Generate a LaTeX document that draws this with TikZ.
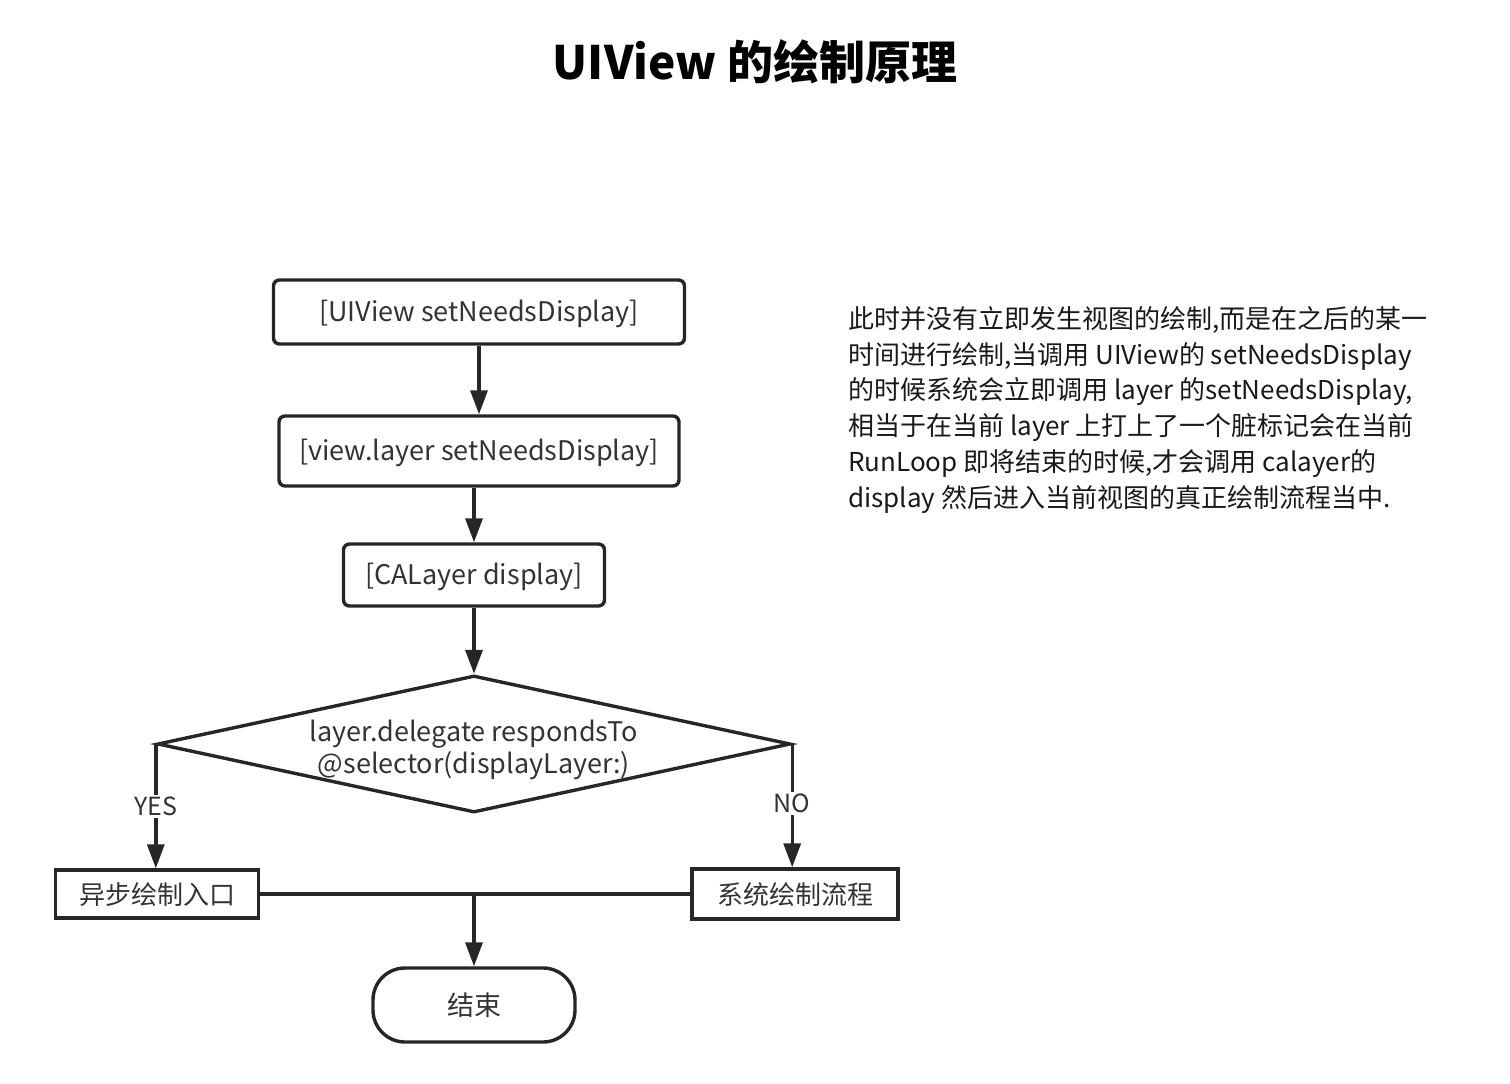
\documentclass[tikz,border=0pt]{standalone}
\usepackage{fontspec}
\setmainfont{Noto Sans CJK SC}
\usetikzlibrary{arrows.meta,shapes.geometric}
\begin{document}
\begin{tikzpicture}[x=1pt,y=-1pt,
  line/.style={draw=black!85,line width=3.4pt},
  arr/.style={line,-{Triangle[length=24pt,width=17pt]}},
  proc/.style={line,rounded corners=6pt,inner sep=0pt,text=black!80,text height=20pt,text depth=1pt,font=\fontsize{27}{32}\selectfont},
  plain/.style={line,inner sep=0pt,text=black!80,text height=21pt,text depth=1pt,font=\fontsize{26}{30}\selectfont},
  lbl/.style={fill=white,inner sep=2pt,text=black!80,font=\fontsize{25}{28}\selectfont}]
\useasboundingbox (0,0) rectangle (1510,1084);
\node[font=\bfseries\fontsize{46}{52}\selectfont] (title) at (755,62) {UIView 的绘制原理};
\node[proc,minimum width=411pt,minimum height=64pt] (b1) at (479,312) {[UIView setNeedsDisplay]};
\node[proc,minimum width=400pt,minimum height=70pt] (b2) at (479,451) {[view.layer setNeedsDisplay]};
\node[proc,minimum width=261pt,minimum height=62pt] (b3) at (474,575) {[CALayer display]};
\node[line,diamond,aspect=4.62,inner sep=0pt,minimum width=633pt,minimum height=137pt,text=black!80,font=\fontsize{27}{32}\selectfont] (d) at (474,744) {\raisebox{-13pt}[0pt][0pt]{\begin{tabular}{@{}c@{}}layer.delegate respondsTo\\@selector(displayLayer:)\end{tabular}}};
\node[plain,minimum width=203pt,minimum height=48pt] (b4) at (157,894) {异步绘制入口};
\node[plain,minimum width=206pt,minimum height=50pt] (b5) at (795,894) {系统绘制流程};
\node[proc,rounded corners=32pt,minimum width=202pt,minimum height=74pt,text height=21pt] (e) at (474,1005) {结束};
\draw[arr] (b1.south) -- (b2.north);
\draw[arr] (b3.north |- b2.south) -- (b3.north);
\draw[arr] (b3.south) -- (d.north);
\draw[arr] (d.west) -- (d.west |- b4.north) node[lbl,pos=0.5] {YES};
\draw[arr] (d.east) -- (d.east |- b5.north) node[lbl,pos=0.48] {NO};
\draw[line] (b4.east) -- (b5.west);
\draw[arr] (e.north |- b4.east) -- (e.north);
\node[anchor=north west,align=left,inner sep=0pt,text=black!90,font=\fontsize{26}{35.8}\selectfont] (t) at (848,306) {此时并没有立即发生视图的绘制,而是在之后的某一\\时间进行绘制,当调用 UIView的 setNeedsDisplay\\的时候系统会立即调用 layer 的setNeedsDisplay,\\相当于在当前 layer 上打上了一个脏标记会在当前\\RunLoop 即将结束的时候,才会调用 calayer的\\display 然后进入当前视图的真正绘制流程当中.};
\end{tikzpicture}
\end{document}
